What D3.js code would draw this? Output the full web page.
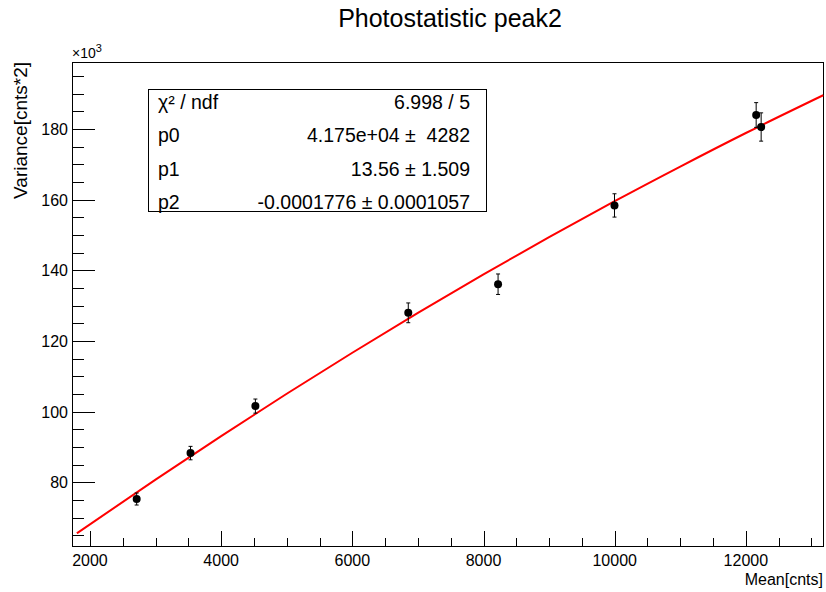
<!DOCTYPE html>
<html>
<head>
<meta charset="utf-8">
<script src="https://cdn.jsdelivr.net/npm/d3@7"></script>
<style>
  body { margin: 0; background: #fff; }
  svg { display: block; font-family: "Liberation Sans", Arial, Helvetica, sans-serif; }
</style>
</head>
<body>
<div id="chart"></div>
<script>
// measured points (x in counts, y in units of 10^3 cnts^2)
const meanX = [2712, 3533, 4522, 6853, 8222, 9997, 12157, 12233];
const varianceY = [75.3, 88.3, 101.6, 128.0, 136.1, 158.4, 184.0, 180.6];
const varianceErr = [1.7, 1.9, 2.0, 2.8, 2.9, 3.3, 3.5, 4.0];

// fit curve
const fitX = [1800, 3000, 4000, 5000, 6000, 7000, 8000, 9000, 10000, 11000, 12000, 13180];
const fitY = [65.6, 80.8, 93.1, 105.1, 116.7, 128.0, 138.9, 149.4, 159.6, 169.4, 178.9, 189.6];

// stats box rows
const statLabels = ['χ² / ndf', 'p0', 'p1', 'p2'];
const statValues = ['6.998 / 5', '4.175e+04 ±  4282', '13.56 ± 1.509', '-0.0001776 ± 0.0001057'];

const xTicks = [2000, 4000, 6000, 8000, 10000, 12000];
const yTicks = [80, 100, 120, 140, 160, 180];

const width = 826, height = 592;
const frame = {left: 72, right: 823, top: 62, bottom: 546};

const svg = d3.select('#chart').append('svg')
  .attr('width', width)
  .attr('height', height);

const x = d3.scaleLinear().domain([1726, 13176]).range([frame.left, frame.right]);
const y = d3.scaleLinear().domain([62, 199]).range([frame.bottom, frame.top]);

// frame
svg.append('rect')
  .attr('x', frame.left).attr('y', frame.top)
  .attr('width', frame.right - frame.left)
  .attr('height', frame.bottom - frame.top)
  .attr('fill', 'none')
  .attr('stroke', '#000')
  .attr('stroke-width', 1)
  .attr('shape-rendering', 'crispEdges');

// x axis: ticks pointing inside
const xMinor = d3.range(2000, 13176, 500).filter(v => !xTicks.includes(v));
const xAxis = svg.append('g').attr('transform', `translate(0,${frame.bottom})`);
xAxis.call(d3.axisTop(x).tickValues(xTicks).tickSize(15).tickFormat(''))
  .call(g => g.select('.domain').remove());
xAxis.append('g').call(d3.axisTop(x).tickValues(xMinor).tickSize(8).tickFormat(''))
  .call(g => g.select('.domain').remove());
xAxis.selectAll('line').attr('stroke', '#000').attr('shape-rendering', 'crispEdges');
svg.append('g').selectAll('text').data(xTicks).enter().append('text')
  .attr('x', d => x(d))
  .attr('y', 566)
  .attr('text-anchor', 'middle')
  .style('font-size', '16px')
  .text(d => d);

// y axis: ticks pointing inside
const yMinor = d3.range(65, 199, 5).filter(v => !yTicks.includes(v));
const yAxis = svg.append('g').attr('transform', `translate(${frame.left},0)`);
yAxis.call(d3.axisRight(y).tickValues(yTicks).tickSize(23).tickFormat(''))
  .call(g => g.select('.domain').remove());
yAxis.append('g').call(d3.axisRight(y).tickValues(yMinor).tickSize(12).tickFormat(''))
  .call(g => g.select('.domain').remove());
yAxis.selectAll('line').attr('stroke', '#000').attr('shape-rendering', 'crispEdges');
svg.append('g').selectAll('text').data(yTicks).enter().append('text')
  .attr('x', 68)
  .attr('y', d => y(d))
  .attr('dy', '0.36em')
  .attr('text-anchor', 'end')
  .style('font-size', '16px')
  .text(d => d);

// x10^3 exponent
const expo = svg.append('text').attr('x', 72).attr('y', 58).style('font-size', '14px');
expo.append('tspan').text('×10');
expo.append('tspan').attr('dy', -6).style('font-size', '11px').text('3');

// axis titles
svg.append('text')
  .attr('x', frame.right)
  .attr('y', 585)
  .attr('text-anchor', 'end')
  .style('font-size', '16px')
  .text('Mean[cnts]');
svg.append('text')
  .attr('transform', `translate(27,${frame.top}) rotate(-90)`)
  .attr('text-anchor', 'end')
  .style('font-size', '19px')
  .text('Variance[cnts*2]');

// title
svg.append('text')
  .attr('x', 450)
  .attr('y', 27)
  .attr('text-anchor', 'middle')
  .style('font-size', '25px')
  .text('Photostatistic peak2');

// fit line
const fitData = fitX.map((v, i) => ({x: v, y: fitY[i]}));
svg.append('path')
  .datum(fitData)
  .attr('fill', 'none')
  .attr('stroke', '#ff0000')
  .attr('stroke-width', 2)
  .attr('d', d3.line().x(d => x(d.x)).y(d => y(d.y)).curve(d3.curveMonotoneX));

// data points with error bars
const pts = meanX.map((v, i) => ({x: v, y: varianceY[i], e: varianceErr[i]}));
const pg = svg.append('g').selectAll('g').data(pts).enter().append('g');
pg.append('line')
  .attr('x1', d => x(d.x)).attr('x2', d => x(d.x))
  .attr('y1', d => y(d.y - d.e)).attr('y2', d => y(d.y + d.e))
  .attr('stroke', '#000').attr('stroke-width', 1);
[-1, 1].forEach(s => {
  pg.append('line')
    .attr('x1', d => x(d.x) - 2).attr('x2', d => x(d.x) + 2)
    .attr('y1', d => y(d.y + s * d.e)).attr('y2', d => y(d.y + s * d.e))
    .attr('stroke', '#000').attr('stroke-width', 1);
});
pg.append('circle')
  .attr('cx', d => x(d.x))
  .attr('cy', d => y(d.y))
  .attr('r', 4)
  .attr('fill', '#000');

// stats box
const box = {x: 148, y: 89, w: 338, h: 122};
svg.append('rect')
  .attr('x', box.x).attr('y', box.y)
  .attr('width', box.w).attr('height', box.h)
  .attr('fill', '#fff')
  .attr('stroke', '#000')
  .attr('shape-rendering', 'crispEdges');
const rows = svg.append('g').selectAll('g').data(statLabels).enter().append('g')
  .attr('transform', (d, i) => `translate(0,${102 + i * 33.3})`);
rows.append('text')
  .attr('x', 158)
  .attr('dy', '0.36em')
  .style('font-size', '19.5px')
  .text(d => d);
rows.append('text')
  .attr('x', 470)
  .attr('dy', '0.36em')
  .attr('text-anchor', 'end')
  .style('font-size', '19.5px')
  .style('white-space', 'pre')
  .attr('xml:space', 'preserve')
  .text((d, i) => statValues[i]);
</script>
</body>
</html>
